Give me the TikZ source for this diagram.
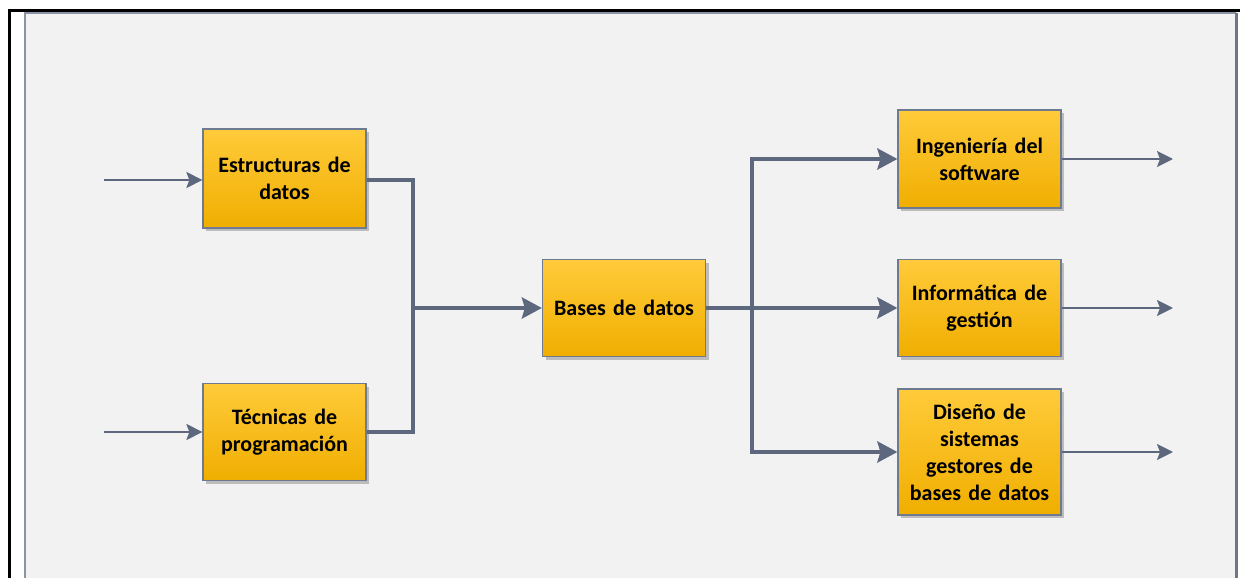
\documentclass[tikz,border=0pt]{standalone}
\usepackage{fontspec}
\setmainfont{Carlito}
\usetikzlibrary{arrows.meta,shadows}
\definecolor{panel}{HTML}{F2F2F2}
\definecolor{edgegrey}{HTML}{8C93A6}
\definecolor{boxtop}{HTML}{FFCB3A}
\definecolor{boxbot}{HTML}{F0AE00}
\definecolor{boxline}{HTML}{6E7A90}
\definecolor{flow}{HTML}{5D687E}
\tikzset{
  x=1pt, y=-1pt,
  stage/.style={draw=boxline, line width=1.2pt, top color=boxtop, bottom color=boxbot,
    minimum width=163pt, minimum height=97pt, align=center, inner sep=3pt,
    font=\fontsize{22}{27}\selectfont\bfseries, text width=157pt,
    drop shadow={shadow xshift=3pt, shadow yshift=-3pt, fill=black!35, opacity=0.7}},
  thin/.style={draw=flow, line width=2.4pt, -{Stealth[length=16pt,width=16pt,inset=3pt]}},
  thick/.style={draw=flow, line width=4pt, -{Stealth[length=20pt,width=21pt,inset=3pt]}},
  thickline/.style={draw=flow, line width=4pt}
}
\begin{document}
\begin{tikzpicture}
\useasboundingbox (0,0) rectangle (1242,578);
% background panel and frame
\fill[white] (0,0) rectangle (1242,578);
\fill[panel] (24,12) rectangle (1237,578);
\draw[edgegrey, line width=2pt] (25,578) -- (25,13) -- (1236,13);
\draw[edgegrey!80!black, line width=3pt] (1236,13) -- (1236,578);
\draw[black, line width=3pt] (9,578) -- (9,11) -- (1240,11);

% stages
\node[stage, minimum height=99pt] (estr) at (284.5,178.5) {Estructuras de\\datos};
\node[stage] (tec) at (284.5,432) {Técnicas de\\programación};
\node[stage] (bases) at (624,308) {Bases de datos};
\node[stage, minimum height=98pt] (ing) at (979.5,159) {Ingeniería del\\software};
\node[stage] (inf) at (979.5,308) {Informática de\\gestión};
\node[stage, minimum height=126pt] (dis) at (979.5,452) {Diseño de\\sistemas\\gestores de\\bases de datos};

% free ends
\coordinate (in1) at (104,180);
\coordinate (in2) at (104,432);
\coordinate (merge) at (413,308);
\coordinate (split) at (752,308);
\coordinate (out1) at (1173,159);
\coordinate (out2) at (1173,308);
\coordinate (out3) at (1173,452);

% inputs
\draw[thin] (in1) -- (estr.west |- in1);
\draw[thin] (in2) -- (tec.west);

% merge into Bases de datos
\draw[thickline] (estr.east |- in1) -| (merge);
\draw[thickline] (tec.east) -| (merge);
\draw[thick] (merge) -- (bases.west);

% split out of Bases de datos
\draw[thick] (bases.east) -- (inf.west);
\draw[thick] (split) |- (ing.west);
\draw[thick] (split) |- (dis.west);

% outputs
\draw[thin] (ing.east) -- (out1);
\draw[thin] (inf.east) -- (out2);
\draw[thin] (dis.east) -- (out3);
\end{tikzpicture}
\end{document}
